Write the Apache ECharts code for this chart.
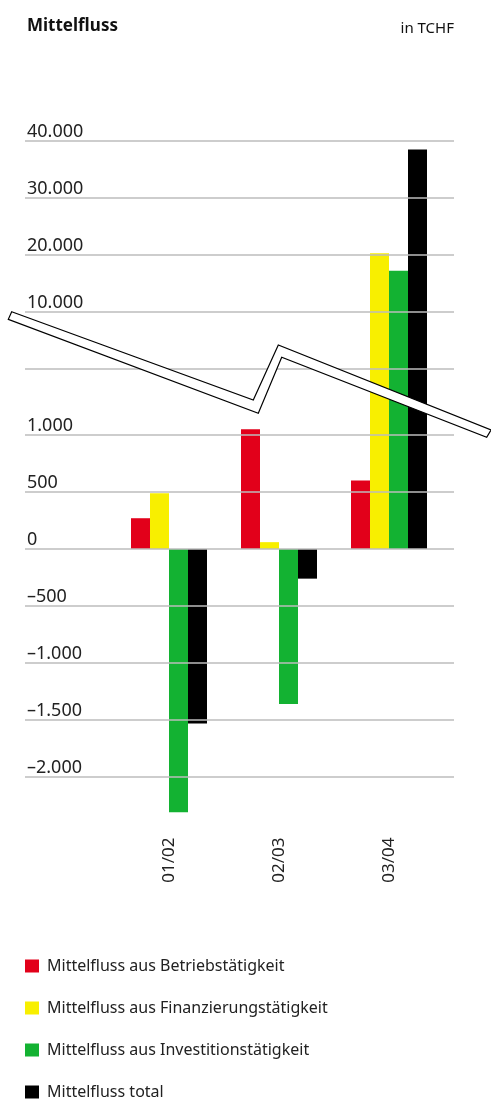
<!DOCTYPE html>
<html>
<head>
<meta charset="utf-8">
<script src="https://cdn.jsdelivr.net/npm/echarts@6/dist/echarts.min.js"></script>
<style>
html,body{margin:0;padding:0;background:#fff;}
#c{width:491px;height:1101px;}
</style>
</head>
<body>
<div id="c"></div>
<script>
// ---- data ----
const categories = ['01/02', '02/03', '03/04'];
const seriesNames = [
  'Mittelfluss aus Betriebstätigkeit',
  'Mittelfluss aus Finanzierungstätigkeit',
  'Mittelfluss aus Investitionstätigkeit',
  'Mittelfluss total'
];
const betrieb = [270, 1050, 600];
const finanzierung = [490, 60, 20300];
const investition = [-2310, -1360, 17200];
const total = [-1530, -260, 38500];
const lowerTicks = [-2000, -1500, -1000, -500, 0, 500, 1000];
const upperTicks = [0, 10000, 20000, 30000, 40000];
const upperLabelled = [false, true, true, true, true];

// ---- broken scale: lower segment 500 per unit, upper segment 10000 per unit ----
const G = 3.16;                       // offset of the upper segment's zero
const SWITCH = G / (1 / 500 - 1 / 10000);
function tLow(v) { return v / 500; }
function tUp(v) { return G + v / 10000; }
function t(v) { return v <= SWITCH ? tLow(v) : tUp(v); }
function fmt(v) {
  const s = String(Math.abs(v)).replace(/\B(?=(\d{3})+(?!\d))/g, '.');
  return (v < 0 ? '\u2013' : '') + s;
}

const colors = ['#e2001a', '#f8ef00', '#13b232', '#000000'];
const values = [betrieb, finanzierung, investition, total];
const FONT = 'Noto Sans';
const YMIN = -4.8, YMAX = 7.4;

const gridLines = [];
lowerTicks.forEach(v => gridLines.push({ yAxis: tLow(v), name: fmt(v) }));
upperTicks.forEach((v, i) => gridLines.push({ yAxis: tUp(v), name: upperLabelled[i] ? fmt(v) : '' }));

const chart = echarts.init(document.getElementById('c'), null, { renderer: 'canvas' });
const option = {
  backgroundColor: '#fff',
  animation: false,
  textStyle: { fontFamily: FONT },
  title: [
    { text: 'Mittelfluss', left: 22, top: 13, textStyle: { fontFamily: FONT, fontSize: 17, fontWeight: 'bold', color: '#111' } },
    { text: 'in TCHF', right: 32, top: 16, textStyle: { fontFamily: FONT, fontSize: 15, fontWeight: 'normal', color: '#111' } }
  ],
  legend: {
    orient: 'vertical', left: 25, top: 958, padding: 0, height: 160,
    itemWidth: 14, itemHeight: 13, itemGap: 26,
    icon: 'rect',
    textStyle: { fontFamily: FONT, fontSize: 16, color: '#222', lineHeight: 16, padding: [0, 0, 0, 3] },
    data: seriesNames
  },
  grid: [
    { left: 25, right: 37, top: 127.2, height: 695.4 },
    { left: 114, width: 330, top: 127.2, height: 695.4 }
  ],
  xAxis: [
    { gridIndex: 0, type: 'value', min: 0, max: 1, show: false },
    {
      gridIndex: 1, type: 'category', data: categories, position: 'bottom',
      axisLine: { show: false }, axisTick: { show: false },
      axisLabel: { rotate: 90, margin: 15, fontFamily: FONT, fontSize: 17, color: '#222' }
    }
  ],
  yAxis: [
    { gridIndex: 0, type: 'value', min: YMIN, max: YMAX, show: false, splitLine: { show: false } },
    { gridIndex: 1, type: 'value', min: YMIN, max: YMAX, show: false, splitLine: { show: false } }
  ],
  series: [
    {
      type: 'line', xAxisIndex: 0, yAxisIndex: 0, data: [], silent: true, z: 1,
      markLine: {
        silent: true, symbol: 'none', animation: false,
        lineStyle: { type: 'solid', color: '#bcbcbc', width: 1.5 },
        label: {
          show: true, position: 'insideStartTop', formatter: '{b}', distance: [2, 0],
          fontFamily: FONT, fontSize: 18, color: '#222'
        },
        emphasis: { disabled: true },
        data: gridLines
      }
    }
  ].concat(seriesNames.map((name, i) => ({
    name: name, type: 'bar', xAxisIndex: 1, yAxisIndex: 1,
    barWidth: 19, barGap: '0%', z: 3,
    itemStyle: { color: colors[i] },
    data: values[i].map(t)
  }))),
  graphic: [
    {
      type: 'polygon', z: 100,
      shape: { points: [[11.7, 311.7], [253.3, 400], [278.3, 345], [491, 430], [486.7, 437.3], [281.7, 357.3], [258.3, 413.3], [8.3, 319.3]] },
      style: { fill: '#fff', stroke: '#000', lineWidth: 1.2 }
    }
  ]
};
chart.setOption(option);
</script>
</body>
</html>
